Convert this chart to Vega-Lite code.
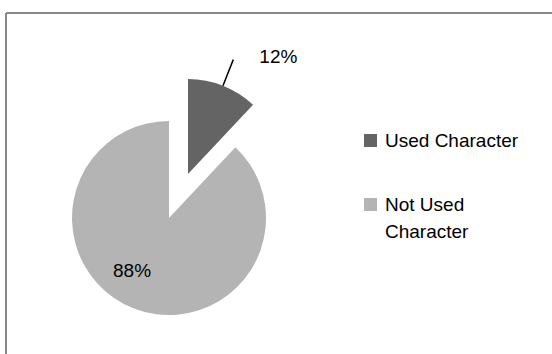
{
  "$schema": "https://vega.github.io/schema/vega-lite/v6.json",
  "width": 546,
  "height": 341,
  "autosize": {"type": "none"},
  "padding": {"left": 6, "top": 13, "right": 0, "bottom": 0},
  "background": "white",
  "config": {
    "view": {"stroke": null},
    "font": "Liberation Sans"
  },
  "data": {
    "values": [
      {"category": "Used Character", "value": 12, "label": "12%"},
      {"category": "Not Used Character", "value": 88, "label": "88%"}
    ]
  },
  "transform": [
    {"stack": "value", "groupby": [], "sort": [{"field": "category", "order": "descending"}], "as": ["s0", "s1"]},
    {"calculate": "(datum.s0 + datum.s1) / 2", "as": "mid"}
  ],
  "layer": [
    {
      "transform": [{"filter": "datum.category === 'Not Used Character'"}],
      "mark": {"type": "rule", "color": "#878787", "strokeWidth": 2},
      "encoding": {"y": {"value": 0}}
    },
    {
      "transform": [{"filter": "datum.category === 'Not Used Character'"}],
      "mark": {"type": "rule", "color": "#878787", "strokeWidth": 2},
      "encoding": {"x": {"value": 0}}
    },
    {
      "transform": [{"filter": "datum.category === 'Not Used Character'"}],
      "mark": {"type": "arc", "outerRadius": 97, "x": 163, "y": 205},
      "encoding": {
        "theta": {"field": "s0", "type": "quantitative", "scale": {"domain": [0, 100]}},
        "theta2": {"field": "s1"},
        "color": {
          "field": "category", "type": "nominal",
          "scale": {"domain": ["Used Character", "Not Used Character"], "range": ["#646464", "#b4b4b4"]},
          "legend": {
            "title": null,
            "orient": "none",
            "legendX": 355,
            "legendY": 118,
            "padding": 0,
            "symbolType": "square",
            "symbolSize": 169,
            "symbolStrokeWidth": 0,
            "labelFontSize": 19,
            "labelFont": "Liberation Sans",
            "labelColor": "#000000",
            "labelOffset": 5,
            "rowPadding": 44,
            "labelLimit": 300,
            "labelExpr": "datum.label == 'Not Used Character' ? ['Not Used', 'Character'] : datum.label",
            "encode": {"labels": {"update": {"lineHeight": {"value": 27}}}}
          }
        }
      }
    },
    {
      "transform": [{"filter": "datum.category === 'Used Character'"}],
      "mark": {"type": "arc", "outerRadius": 95, "x": 163, "y": 205, "xOffset": 19, "yOffset": -44},
      "encoding": {
        "theta": {"field": "s0", "type": "quantitative"},
        "theta2": {"field": "s1"},
        "color": {"field": "category", "type": "nominal"}
      }
    },
    {
      "transform": [{"filter": "datum.category === 'Used Character'"}],
      "mark": {"type": "arc", "innerRadius": 95, "outerRadius": 123, "x": 163, "y": 205, "xOffset": 19, "yOffset": -44, "stroke": "#000000", "strokeWidth": 1.5, "fill": "#000000"},
      "encoding": {
        "theta": {"field": "mid", "type": "quantitative"},
        "theta2": {"field": "mid"}
      }
    },
    {
      "transform": [{"filter": "datum.category === 'Used Character'"}],
      "mark": {"type": "text", "radius": 126, "x": 163, "y": 205, "xOffset": 19, "yOffset": -44, "dx": 44, "fontSize": 19, "font": "Liberation Sans", "color": "#000000"},
      "encoding": {
        "theta": {"field": "mid", "type": "quantitative"},
        "text": {"field": "label"}
      }
    },
    {
      "transform": [{"filter": "datum.category === 'Not Used Character'"}],
      "mark": {"type": "text", "radius": 57, "x": 163, "y": 205, "dx": -16, "fontSize": 19, "font": "Liberation Sans", "color": "#000000"},
      "encoding": {
        "theta": {"field": "mid", "type": "quantitative"},
        "text": {"field": "label"}
      }
    }
  ]
}
